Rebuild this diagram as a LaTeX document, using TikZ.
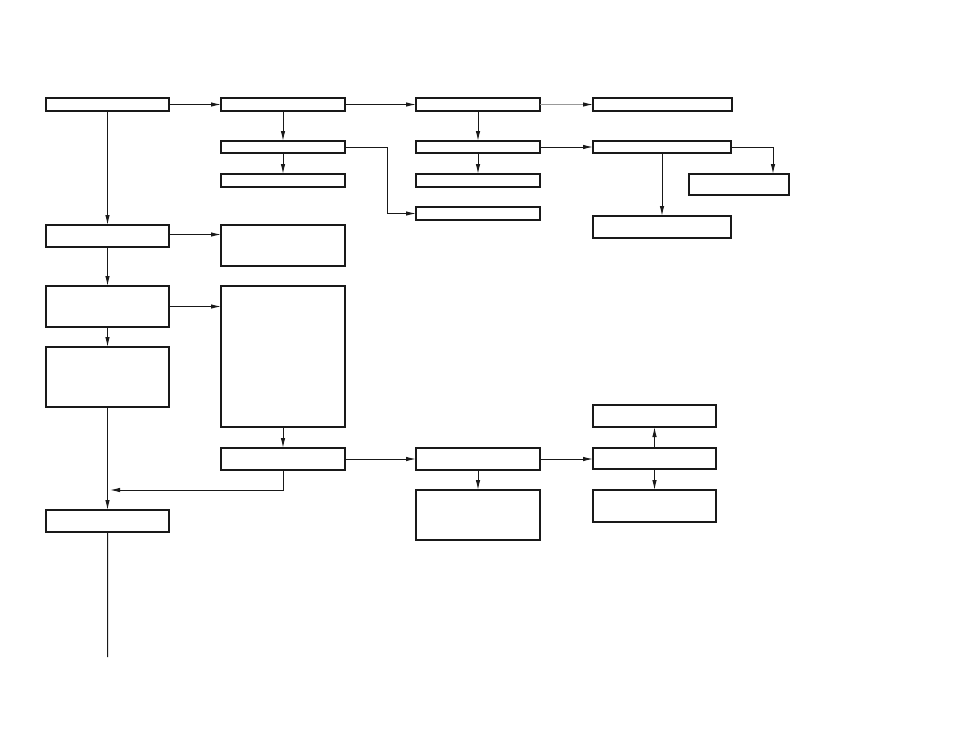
\documentclass[tikz,border=0pt]{standalone}
\usetikzlibrary{arrows.meta}
\begin{document}
\begin{tikzpicture}[x=1bp,y=-1bp,
  box/.style={draw=black!90,line width=1.1bp,inner sep=0pt,outer sep=0pt,anchor=north west,fill=white},
  arr/.style={draw=black!90,line width=1bp,-{Latex[length=10bp,width=4.5bp]}},
  ln/.style={draw=black!90,line width=1bp},
  thk/.style={draw=black!90,line width=2.2bp}]
\useasboundingbox (0,0) rectangle (954,737);
\node[box,minimum width=123bp,minimum height=13bp] (A) at (46,98) {};
\node[box,minimum width=124bp,minimum height=13bp] (B) at (221,98) {};
\node[box,minimum width=124bp,minimum height=13bp] (C) at (416,98) {};
\node[box,minimum width=139bp,minimum height=13bp] (D) at (593,98) {};
\node[box,minimum width=124bp,minimum height=12bp] (B2) at (221,141) {};
\node[box,minimum width=124bp,minimum height=13bp] (B3) at (221,174) {};
\node[box,minimum width=124bp,minimum height=12bp] (C2) at (416,141) {};
\node[box,minimum width=124bp,minimum height=13bp] (C3) at (416,174) {};
\node[box,minimum width=124bp,minimum height=13bp] (C4) at (416,207) {};
\node[box,minimum width=138bp,minimum height=12bp] (D2) at (593,141) {};
\node[box,minimum width=100bp,minimum height=21bp] (D3) at (689,174) {};
\node[box,minimum width=138bp,minimum height=22bp] (D4) at (593,216) {};
\node[box,minimum width=123bp,minimum height=22bp] (E) at (46,225) {};
\node[box,minimum width=124bp,minimum height=41bp] (F) at (221,225) {};
\node[box,minimum width=123bp,minimum height=41bp] (G) at (46,286) {};
\node[box,minimum width=124bp,minimum height=141bp] (H) at (221,286) {};
\node[box,minimum width=123bp,minimum height=60bp] (I) at (46,347) {};
\node[box,minimum width=124bp,minimum height=22bp] (J) at (221,448) {};
\node[box,minimum width=123bp,minimum height=22bp] (K) at (46,510) {};
\node[box,minimum width=124bp,minimum height=22bp] (L) at (416,448) {};
\node[box,minimum width=124bp,minimum height=50bp] (M) at (416,490) {};
\node[box,minimum width=123bp,minimum height=22bp] (N) at (593,405) {};
\node[box,minimum width=123bp,minimum height=21bp] (O) at (593,448) {};
\node[box,minimum width=123bp,minimum height=32bp] (P) at (593,490) {};
% thicker edges
\draw[thk] (A.north west) -- (A.north east);
\draw[thk] (B.north west) -- (B.north east);
\draw[thk] (C.north west) -- (C.north east);
\draw[thk] (D.north west) -- (D.north east);
\draw[thk] (G.north west) -- (G.north east);
\draw[thk] (G.south west) -- (G.south east);
\draw[thk] (H.north west) -- (H.north east);
\draw[thk] (I.south west) -- (I.south east);
\draw[thk] (D3.north east) -- (D3.south east);
\draw[draw=black!90,line width=1.8bp] (N.north west) rectangle (N.south east);
\draw[thk] (P.north west) -- (P.north east);
\draw[thk] (P.south west) -- (P.south east);
% connectors
\coordinate (jm) at (110,490);
\coordinate (kend) at (107.5,657);
\draw[arr] (A.east) -- (B.west);
\draw[arr] (A.south) -- (E.north);
\draw[arr] (B.south) -- (B2.north);
\draw[arr] (B2.south) -- (B3.north);
\draw[arr] (B.east) -- (C.west);
\draw[arr] (B2.east) -- ++(42,0) |- (C4.west);
\draw[line width=1bp,draw=black!40,-{Latex[length=10bp,width=4.5bp,color=black!90]}] (C.east) -- (D.west);
\draw[arr] (C.south) -- (C2.north);
\draw[arr] (C2.south) -- (C3.north);
\draw[arr] (C2.east) -- (D2.west);
\draw[arr] (D2.south) -- (D4.north);
\draw[arr] (D2.east) -| ([xshift=34bp]D3.north);
\draw[arr] ([yshift=-9.5bp]E.north east) -- ([yshift=-9.5bp]E.north east -| F.west);
\draw[arr] (E.south) -- (G.north);
\draw[arr] (G.east) -- (G.east -| H.west);
\draw[arr] (G.south) -- (I.north);
\draw[arr] (H.south) -- (J.north);
\draw[arr] (J.south) |- (jm);
\draw[arr] (I.south) -- (K.north);
\draw[ln] (K.south) -- (kend);
\draw[arr] (J.east) -- (L.west);
\draw[arr] (L.south) -- (M.north);
\draw[arr] (L.east) -- (L.east -| O.west);
\draw[arr] (O.north) -- (N.south);
\draw[arr] (O.south) -- (P.north);
\end{tikzpicture}
\end{document}
